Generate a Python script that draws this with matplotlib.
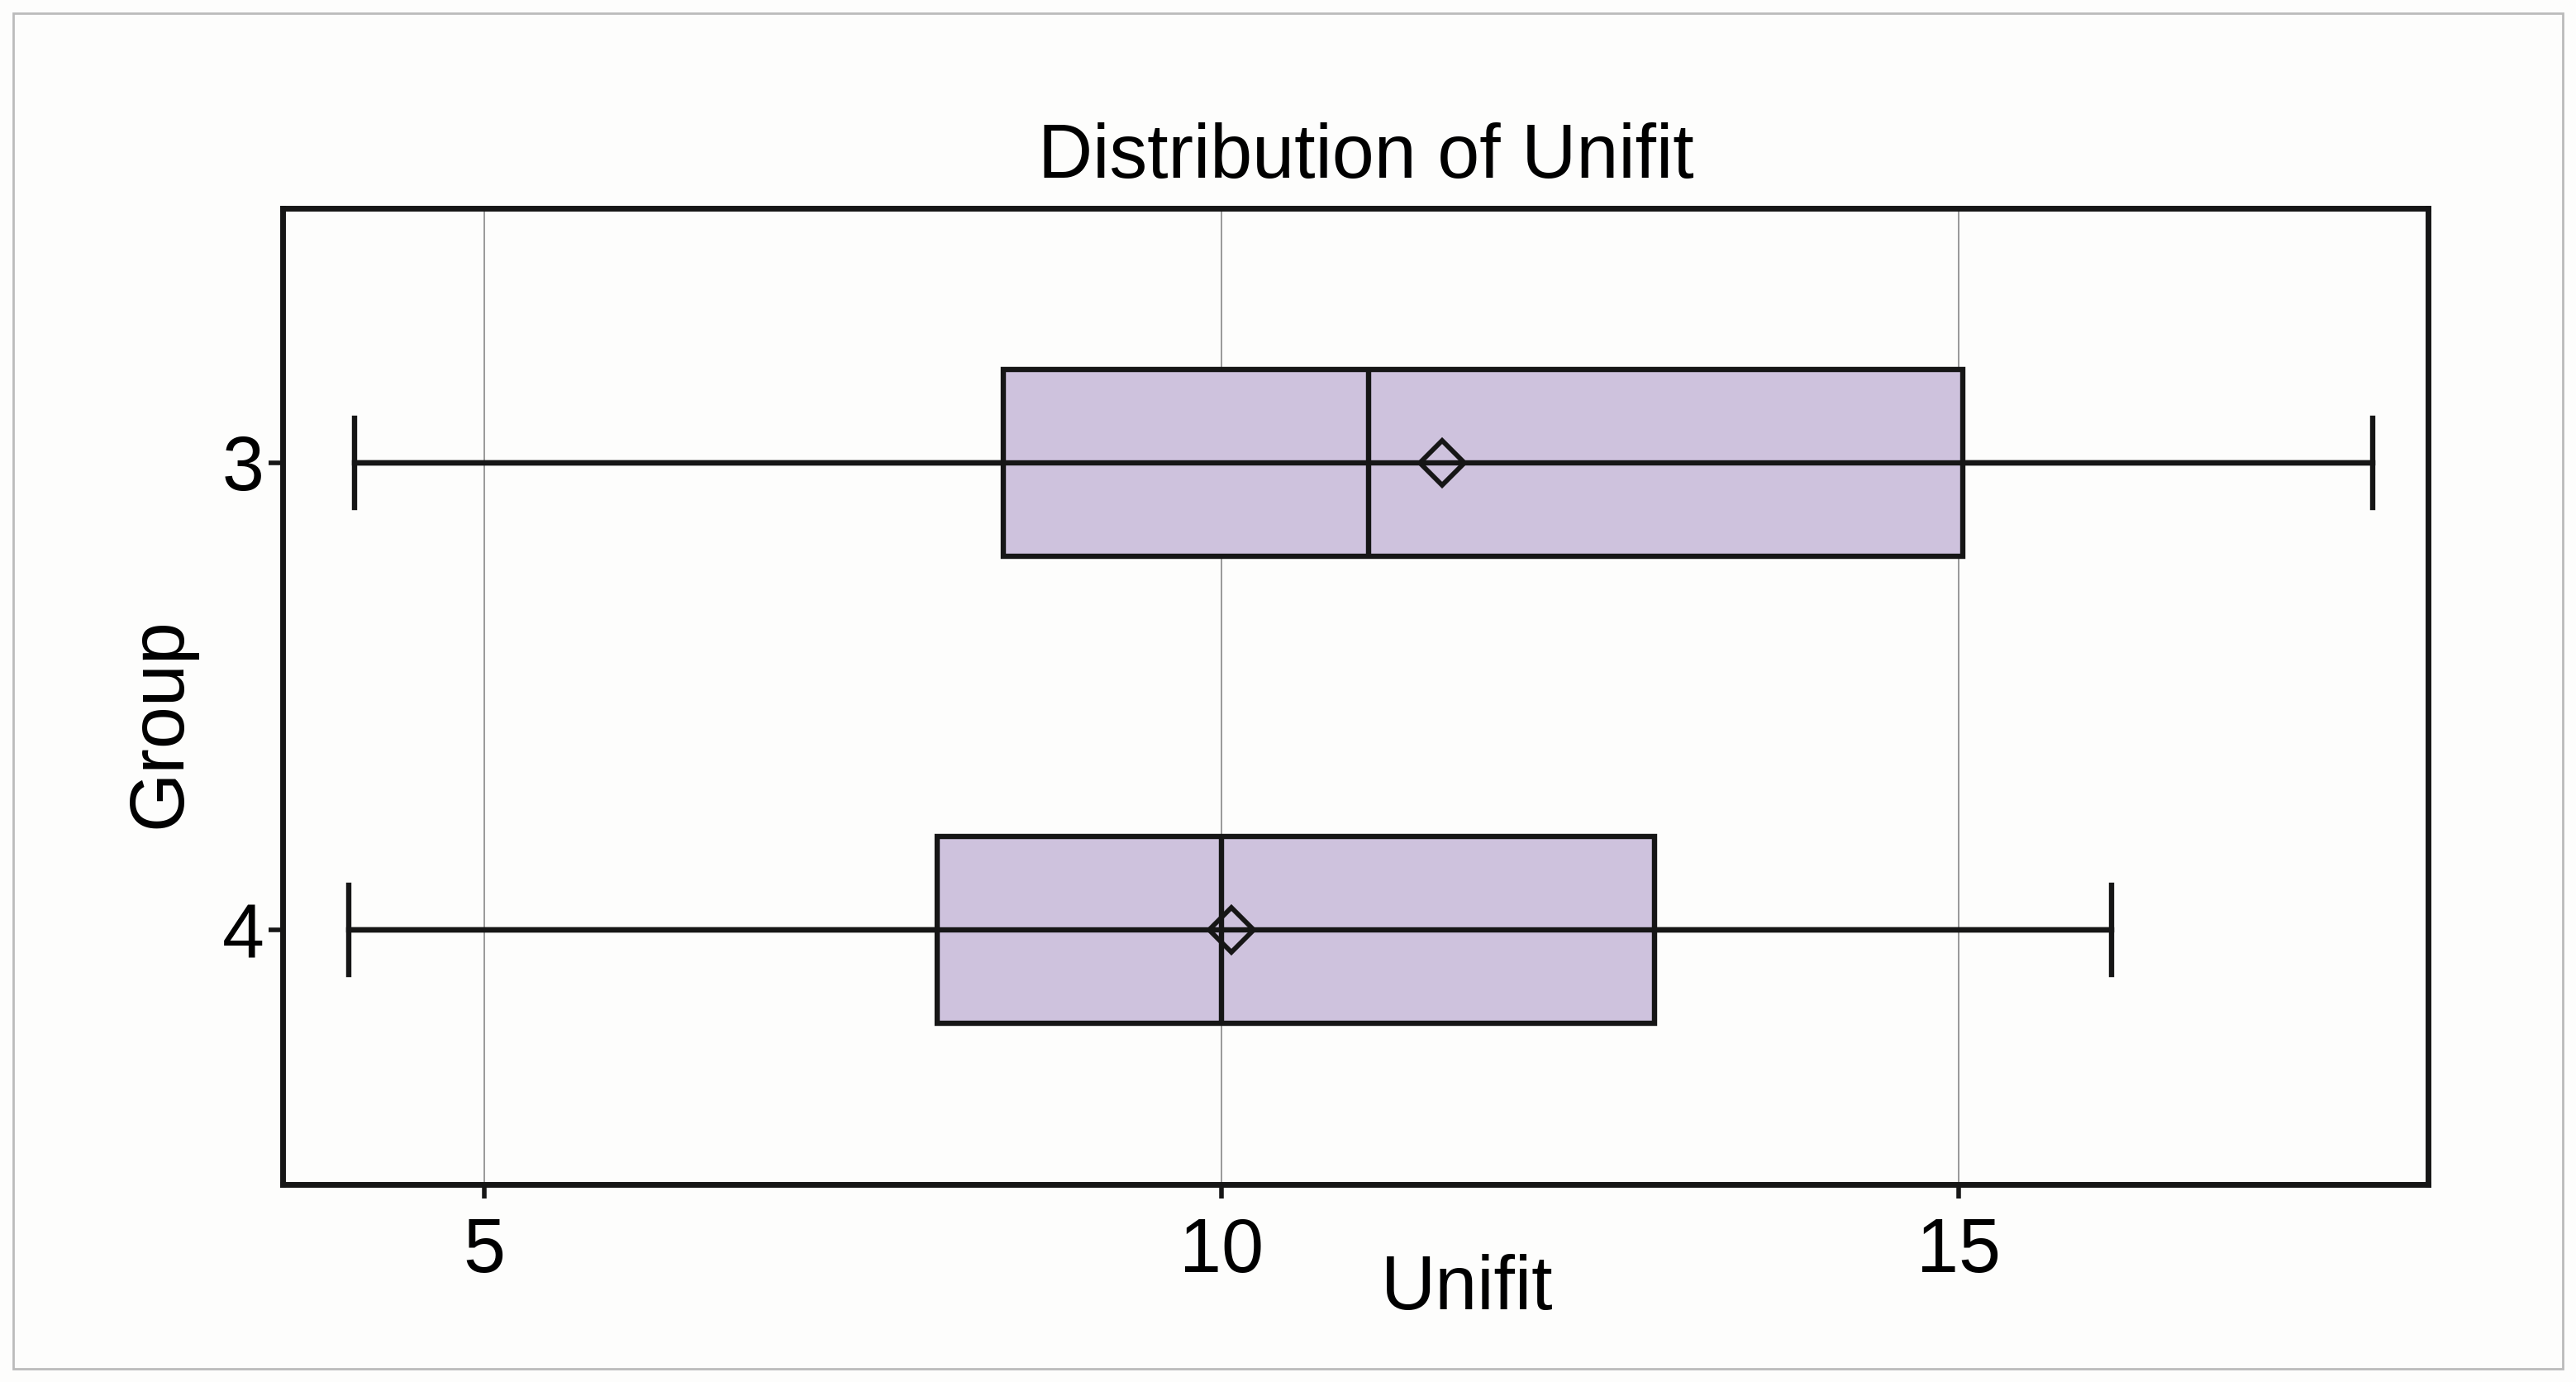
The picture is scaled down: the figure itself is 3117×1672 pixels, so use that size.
import matplotlib
matplotlib.use("Agg")
import matplotlib.pyplot as plt
from matplotlib.patches import Rectangle

# Values
groups = ["3", "4"]
whisker_lo = [4.12, 4.08]
q1 = [8.52, 8.07]
median = [11.0, 10.0]
q3 = [15.03, 12.94]
whisker_hi = [17.81, 16.04]
means = [11.5, 10.07]

xticks = [5, 10, 15]

plt.rcParams["font.family"] = ["Liberation Sans", "DejaVu Sans"]

ink = "#161616"
fig = plt.figure(figsize=(15.585, 8.36), dpi=200, facecolor="#fdfdfc")
ax = fig.add_axes([0.1097, 0.143, 0.833, 0.706])
ax.set_facecolor("#fdfdfc")

# outer light frame around the whole picture
fig.patches.append(Rectangle((16 / 3117, 16 / 1672), 3085 / 3117, 1640 / 1672,
                             transform=fig.transFigure, fill=False,
                             edgecolor="#bbbbbb", linewidth=1.0))

stats = []
for i, g in enumerate(groups):
    stats.append({"label": g, "whislo": whisker_lo[i], "q1": q1[i], "med": median[i],
                  "q3": q3[i], "whishi": whisker_hi[i], "mean": means[i], "fliers": []})

positions = [1, 2]
lw = 2.3
line = dict(color=ink, linewidth=lw)
ax.bxp(stats, positions=positions, vert=False, widths=0.4, patch_artist=True,
       showmeans=True, showcaps=True,
       boxprops=dict(facecolor="#cec2dd", edgecolor=ink, linewidth=lw),
       medianprops=line, whiskerprops=line,
       capprops=dict(color=ink, linewidth=lw),
       capwidths=0.19,
       meanprops=dict(marker="D", markersize=14, markerfacecolor="none",
                      markeredgecolor=ink, markeredgewidth=2.1, zorder=4))
# the whisker line runs straight through the box in the original
ax.hlines(positions, whisker_lo, whisker_hi, color=ink, linewidth=lw, zorder=3)

ax.set_xlim(3.63, 18.19)
ax.set_ylim(2.545, 0.456)
ax.set_xticks(xticks)
ax.set_yticks(positions)
ax.set_yticklabels(groups)
ax.grid(axis="x", color="#999999", linewidth=0.7)
ax.set_axisbelow(True)

for s in ax.spines.values():
    s.set_linewidth(2.5)
    s.set_color(ink)

ax.tick_params(axis="both", labelsize=33, width=2.0, length=6, color=ink)
ax.tick_params(axis="x", pad=8)
ax.tick_params(axis="y", pad=2)

ax.set_title("Distribution of Unifit", fontsize=33, x=0.505, y=1.032, pad=0)
ax.set_xlabel("Unifit", fontsize=33)
ax.xaxis.set_label_coords(0.552, -0.108)
ax.set_ylabel("Group", fontsize=33)
ax.yaxis.set_label_coords(-0.057, 0.473)
ax.xaxis.label.set_va("center")
ax.yaxis.label.set_va("center")

fig.savefig("out.png", dpi=200, facecolor=fig.get_facecolor())
